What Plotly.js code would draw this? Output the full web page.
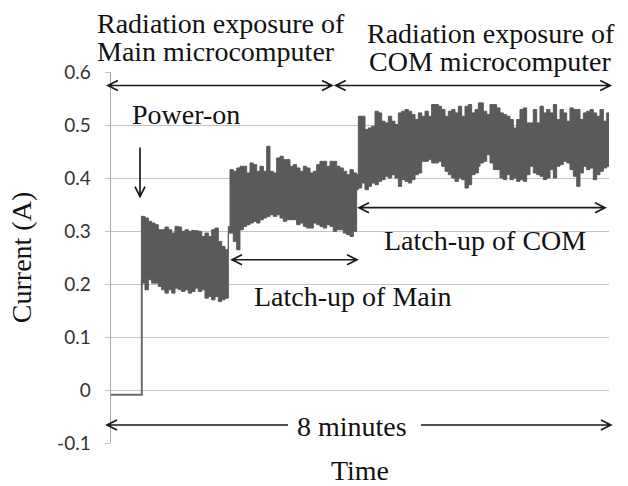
<!DOCTYPE html>
<html>
<head>
<meta charset="utf-8">
<script src="https://cdn.plot.ly/plotly-3.0.1.min.js"></script>
<style>html,body{margin:0;padding:0;background:#fff;}#chart{width:628px;height:486px;}</style>
</head>
<body>
<div id="chart"></div>
<script>
// ---------- data (minutes, amperes) ----------
const stepTime = [0, 0.495, 0.495];
const stepCurrent = [-0.009, -0.009, 0.3276];

const bandTime = [
  0.495, 0.546, 0.600, 0.653, 0.707, 0.760, 0.814, 0.867, 0.921, 0.975, 1.028, 1.082, 1.135, 1.189,
  1.242, 1.296, 1.349, 1.403, 1.457, 1.510, 1.564, 1.617, 1.671, 1.724, 1.778, 1.831, 1.885,
  1.912, 1.965, 2.019, 2.072, 2.126, 2.179, 2.233, 2.286, 2.340, 2.393, 2.447, 2.501, 2.554, 2.608,
  2.661, 2.715, 2.768, 2.822, 2.875, 2.929, 2.982, 3.036, 3.090, 3.143, 3.197, 3.250, 3.304, 3.357,
  3.411, 3.464, 3.518, 3.571, 3.625, 3.679, 3.732, 3.786, 3.839, 3.893, 3.946,
  3.973, 4.027, 4.080, 4.134, 4.187, 4.241, 4.295, 4.348, 4.402, 4.455, 4.509, 4.562, 4.616, 4.669,
  4.723, 4.777, 4.830, 4.884, 4.937, 4.991, 5.044, 5.098, 5.151, 5.205, 5.259, 5.312, 5.366, 5.419,
  5.473, 5.526, 5.580, 5.633, 5.687, 5.741, 5.794, 5.848, 5.901,
  5.928, 5.981, 6.035, 6.088, 6.142, 6.195, 6.249, 6.302, 6.356, 6.410, 6.463, 6.517, 6.570, 6.624,
  6.677, 6.731, 6.784, 6.838, 6.892, 6.945, 6.999, 7.052, 7.106, 7.159, 7.213, 7.266, 7.320, 7.373,
  7.427, 7.481, 7.534, 7.588, 7.641, 7.695, 7.748, 7.802, 7.855, 7.909, 7.963, 8.0
];

const upperCurrent = [
  0.3276, 0.3245, 0.3182, 0.3150, 0.3119, 0.3024, 0.3024, 0.3075, 0.3024, 0.2961, 0.3087, 0.3075, 0.2993, 0.3024,
  0.2993, 0.3012, 0.3005, 0.2993, 0.2898, 0.2961, 0.2898, 0.3024, 0.3056, 0.2804, 0.2709, 0.2646, 0.2961,
  0.4158, 0.4126, 0.4189, 0.4221, 0.4221, 0.4095, 0.4284, 0.4252, 0.4126, 0.4221, 0.4126, 0.4599, 0.4126, 0.4095,
  0.4378, 0.4410, 0.4347, 0.4347, 0.4221, 0.4252, 0.4189, 0.4126, 0.4221, 0.4189, 0.4095, 0.4126, 0.4252, 0.4315,
  0.4315, 0.4221, 0.4315, 0.4315, 0.4221, 0.4189, 0.4126, 0.4063, 0.4158, 0.4095, 0.4063,
  0.5165, 0.5165, 0.4914, 0.4945, 0.4977, 0.5260, 0.5228, 0.5071, 0.5040, 0.5165, 0.5071, 0.5008, 0.5228, 0.5260,
  0.5291, 0.5260, 0.5197, 0.5103, 0.5228, 0.5165, 0.5260, 0.5165, 0.5386, 0.5386, 0.5354, 0.5291, 0.5165, 0.5260,
  0.5291, 0.5228, 0.5354, 0.5165, 0.5354, 0.5386, 0.5228, 0.5291, 0.5417,
  0.5417, 0.5260, 0.5197, 0.5386, 0.5386, 0.5323, 0.5228, 0.5197, 0.5165, 0.5103, 0.4945, 0.5103, 0.5291, 0.5323,
  0.5040, 0.5040, 0.5291, 0.5040, 0.5354, 0.5228, 0.5291, 0.5228, 0.5386, 0.5103, 0.5291, 0.5228, 0.5071, 0.5323,
  0.5291, 0.5291, 0.5103, 0.5228, 0.5260, 0.5291, 0.5228, 0.5165, 0.5291, 0.5071, 0.5228, 0.5228
];

const lowerCurrent = [
  0.1954, 0.2017, 0.1891, 0.2080, 0.2017, 0.2017, 0.1954, 0.1891, 0.1828, 0.1891, 0.1828, 0.1922, 0.1891, 0.1859,
  0.1891, 0.1828, 0.1859, 0.1922, 0.1859, 0.1891, 0.1733, 0.1765, 0.1702, 0.1765, 0.1670, 0.1702, 0.1733,
  0.3087, 0.2961, 0.2804, 0.2646, 0.3024, 0.3087, 0.3119, 0.3150, 0.3182, 0.3150, 0.3213, 0.3245, 0.3276, 0.3308,
  0.3276, 0.3308, 0.3245, 0.3182, 0.3213, 0.3213, 0.3213, 0.3119, 0.3150, 0.3087, 0.3056, 0.3056, 0.3150, 0.3119,
  0.3087, 0.3056, 0.3119, 0.3087, 0.2993, 0.3024, 0.3024, 0.2961, 0.2930, 0.2898, 0.2993,
  0.3780, 0.3811, 0.3906, 0.3780, 0.3843, 0.3906, 0.3874, 0.3937, 0.3969, 0.4032, 0.4000, 0.4063, 0.4000, 0.3843,
  0.3969, 0.3937, 0.3906, 0.3969, 0.4063, 0.4095, 0.4315, 0.4315, 0.4347, 0.4284, 0.4284, 0.4315, 0.4221, 0.4126,
  0.4063, 0.4000, 0.3937, 0.4000, 0.3969, 0.3811, 0.3874, 0.4063, 0.4095,
  0.4221, 0.4284, 0.4315, 0.4441, 0.4284, 0.4158, 0.4158, 0.4000, 0.3969, 0.4063, 0.3969, 0.4000, 0.3937, 0.3969,
  0.3937, 0.4063, 0.4221, 0.4095, 0.4063, 0.4032, 0.3969, 0.4000, 0.4158, 0.4000, 0.4221, 0.4252, 0.4315, 0.4284,
  0.4158, 0.4032, 0.3843, 0.4095, 0.4221, 0.4158, 0.4189, 0.3969, 0.4063, 0.4126, 0.4189, 0.4221
];

const yTickVals = [-0.1, 0, 0.1, 0.2, 0.3, 0.4, 0.5, 0.6];
const yTickText = ['-0.1', '0', '0.1', '0.2', '0.3', '0.4', '0.5', '0.6'];

// ---------- layout ----------
const W = 628, H = 486;
const M = {l: 111, r: 19, t: 72, b: 43};
const XR = [0, 8], YR = [-0.1, 0.6];
const kx = (W - M.l - M.r) / (XR[1] - XR[0]);
const ky = (H - M.t - M.b) / (YR[1] - YR[0]);
const SERIF = 'Liberation Serif, Times New Roman, serif';
const TXT = '#111111';

function px(x) { return (x - XR[0]) / (XR[1] - XR[0]); }
function py(y) { return (y - YR[0]) / (YR[1] - YR[0]); }

function headPath(tx, ty, fx, fy) {
  const dx = (tx - fx) * kx, dy = (ty - fy) * ky;
  const L = Math.hypot(dx, dy), ux = dx / L, uy = dy / L;
  const len = 10, hw = 5;
  const p1x = tx + (-ux * len - uy * hw) / kx, p1y = ty + (-uy * len + ux * hw) / ky;
  const p2x = tx + (-ux * len + uy * hw) / kx, p2y = ty + (-uy * len - ux * hw) / ky;
  return `M${px(p1x)},${py(p1y)}L${px(tx)},${py(ty)}L${px(p2x)},${py(p2y)}`;
}
function arrow(x0, y0, x1, y1, hs, he) {
  let p = `M${px(x0)},${py(y0)}L${px(x1)},${py(y1)}`;
  if (hs) p += headPath(x0, y0, x1, y1);
  if (he) p += headPath(x1, y1, x0, y0);
  return {type: 'path', xref: 'paper', yref: 'paper', path: p,
          line: {color: '#1a1a1a', width: 1.7}, layer: 'above'};
}

const shapes = [
  arrow(-0.05, 0.5745, 3.55, 0.5745, true, true),
  arrow(3.61, 0.5745, 8.02, 0.5745, true, true),
  arrow(0.466, 0.4574, 0.466, 0.3648, false, true),
  arrow(1.944, 0.2458, 3.952, 0.2458, true, true),
  arrow(3.984, 0.344, 7.936, 0.344, true, true),
  arrow(-0.064, -0.066, 2.843, -0.066, true, false),
  arrow(4.98, -0.066, 8.03, -0.066, false, true)
];

function label(text, x, y, xanchor) {
  return {text: text, x: px(x), y: py(y), xref: 'paper', yref: 'paper', xanchor: xanchor, yanchor: 'middle',
          showarrow: false, font: {family: SERIF, size: 28, color: TXT}};
}
const annotations = [
  label('Radiation exposure of', -0.257, 0.6922, 'left'),
  label('Main microcomputer', -0.257, 0.6387, 'left'),
  label('Radiation exposure of', 4.080, 0.6727, 'left'),
  label('COM microcomputer', 4.107, 0.6189, 'left'),
  label('Power-on', 0.305, 0.5191, 'left'),
  label('Latch-up of Main', 2.265, 0.1759, 'left'),
  label('Latch-up of COM', 7.663, 0.2817, 'right'),
  label('8 minutes', 3.871, -0.0698, 'center')
];

const traces = [
  {x: stepTime, y: stepCurrent, type: 'scatter', mode: 'lines',
   line: {color: '#6a6a6a', width: 2}, hoverinfo: 'skip', showlegend: false},
  {x: bandTime.concat(bandTime.slice().reverse()),
   y: upperCurrent.concat(lowerCurrent.slice().reverse()),
   type: 'scatter', mode: 'lines', fill: 'toself', fillcolor: '#5a5a5a',
   line: {color: '#5a5a5a', width: 1, shape: 'hv'}, hoverinfo: 'skip', showlegend: false}
];

const layout = {
  width: W, height: H, margin: M,
  paper_bgcolor: '#ffffff', plot_bgcolor: '#ffffff',
  showlegend: false,
  xaxis: {range: XR, showgrid: false, zeroline: false, showline: false, showticklabels: false,
          ticks: '', fixedrange: true, automargin: false,
          title: {text: 'Time', font: {family: SERIF, size: 28, color: TXT}, standoff: 23}},
  yaxis: {range: YR, tickvals: yTickVals, ticktext: yTickText, showgrid: true, gridcolor: '#c4c4c4', gridwidth: 1,
          zeroline: false, showline: true, linecolor: '#a8a8a8', linewidth: 1.5,
          ticks: 'outside', ticklen: 5, tickcolor: '#c4c4c4', tickwidth: 1, ticklabelstandoff: 10,
          tickfont: {family: 'Lato, Open Sans, sans-serif', size: 19, color: '#333333'},
          fixedrange: true, automargin: false,
          title: {text: 'Current (A)', font: {family: SERIF, size: 28, color: TXT}, standoff: 17}},
  shapes: shapes,
  annotations: annotations
};

Plotly.newPlot('chart', traces, layout, {staticPlot: true, displayModeBar: false});
</script>
</body>
</html>
